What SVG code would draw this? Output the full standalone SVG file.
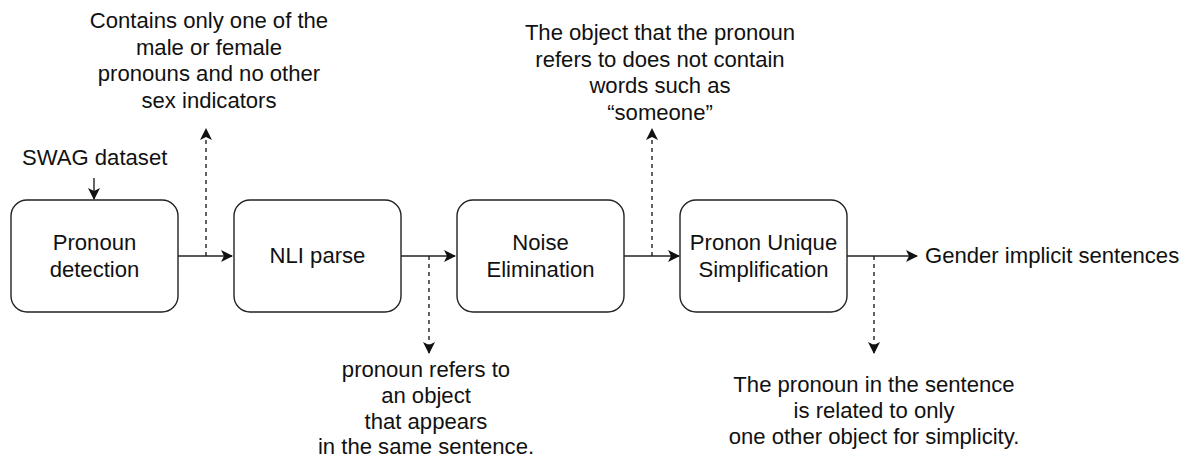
<svg xmlns="http://www.w3.org/2000/svg" width="1183" height="459" viewBox="0 0 1183 459">
<style>
.box{fill:#fff;stroke:#222;stroke-width:1.4}
.t{font-family:"Liberation Sans",Arial,sans-serif;font-size:22.1px;fill:#111;text-anchor:middle}
.l{font-family:"Liberation Sans",Arial,sans-serif;font-size:22.1px;fill:#111}
.c{fill:none;stroke:#222;stroke-width:1.4}
.d{fill:none;stroke:#222;stroke-width:1.4;stroke-dasharray:4 4}
</style>
<defs>
<marker id="a" viewBox="0 0 12 12" refX="11" refY="6" markerWidth="12" markerHeight="12" markerUnits="userSpaceOnUse" orient="auto">
<path d="M0,0 L12,6 L0,12 L3,6 Z" fill="#111"/>
</marker>
</defs>
<rect width="1183" height="459" fill="#fff"/>
<g id="connectors">
<line class="c" x1="94" y1="178" x2="94" y2="199" marker-end="url(#a)"/>
<line class="c" x1="178" y1="256" x2="232" y2="256" marker-end="url(#a)"/>
<line class="c" x1="401" y1="256" x2="455" y2="256" marker-end="url(#a)"/>
<line class="c" x1="624" y1="256" x2="679" y2="256" marker-end="url(#a)"/>
<line class="c" x1="847" y1="256" x2="917" y2="256" marker-end="url(#a)"/>
<line class="d" x1="206" y1="256" x2="206" y2="129" marker-end="url(#a)"/>
<line class="d" x1="429" y1="256" x2="429" y2="353" marker-end="url(#a)"/>
<line class="d" x1="652" y1="256" x2="652" y2="129" marker-end="url(#a)"/>
<line class="d" x1="874" y1="256" x2="874" y2="353" marker-end="url(#a)"/>
</g>
<g id="pronoun-detection">
<rect class="box" x="11" y="200" width="167" height="112" rx="16"/>
<text class="t" x="94.5" y="250">Pronoun</text>
<text class="t" x="94.5" y="277">detection</text>
</g>
<g id="nli-parse">
<rect class="box" x="234" y="200" width="167" height="112" rx="16"/>
<text class="t" x="317.5" y="263">NLI parse</text>
</g>
<g id="noise-elimination">
<rect class="box" x="457" y="200" width="167" height="112" rx="16"/>
<text class="t" x="540.5" y="250">Noise</text>
<text class="t" x="540.5" y="277">Elimination</text>
</g>
<g id="pronon-unique">
<rect class="box" x="680" y="200" width="167" height="112" rx="16"/>
<text class="t" x="763.5" y="250">Pronon Unique</text>
<text class="t" x="763.5" y="277">Simplification</text>
</g>
<g id="swag-label">
<text class="l" x="22" y="165">SWAG dataset</text>
</g>
<g id="output-label">
<text class="l" x="925" y="263">Gender implicit sentences</text>
</g>
<g id="note-1">
<text class="t" x="209" y="28">Contains only one of the</text>
<text class="t" x="209" y="55">male or female</text>
<text class="t" x="209" y="81">pronouns and no other</text>
<text class="t" x="209" y="108">sex indicators</text>
</g>
<g id="note-2">
<text class="t" x="426" y="377">pronoun refers to</text>
<text class="t" x="426" y="403">an object</text>
<text class="t" x="426" y="429">that appears</text>
<text class="t" x="426" y="454">in the same sentence.</text>
</g>
<g id="note-3">
<text class="t" x="660" y="40">The object that the pronoun</text>
<text class="t" x="660" y="67">refers to does not contain</text>
<text class="t" x="660" y="93">words such as</text>
<text class="t" x="660" y="120">“someone”</text>
</g>
<g id="note-4">
<text class="t" x="874" y="392">The pronoun in the sentence</text>
<text class="t" x="874" y="418">is related to only</text>
<text class="t" x="874" y="444">one other object for simplicity.</text>
</g>
</svg>
